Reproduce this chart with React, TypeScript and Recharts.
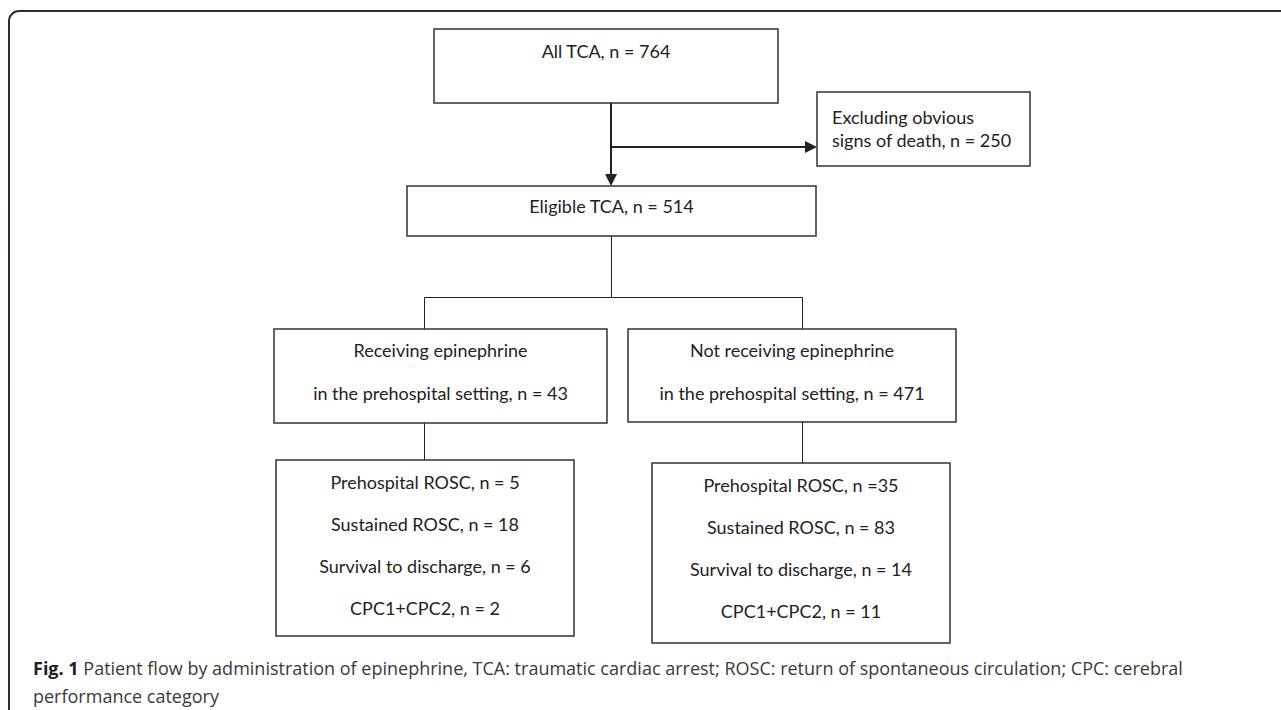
import React from "react";
import { ComposedChart, XAxis, YAxis, ReferenceArea, ReferenceLine, Scatter } from "recharts";

// Patient flow counts
const allTca = 764;
const excludedDeath = 250;
const eligibleTca = 514;
const groupNames = ["Receiving epinephrine", "Not receiving epinephrine"];
const groupCounts = [43, 471];
const outcomeNames = ["Prehospital ROSC", "Sustained ROSC", "Survival to discharge", "CPC1+CPC2"];
const epiOutcomes = [5, 18, 6, 2];
const noEpiOutcomes = [35, 83, 14, 11];
const noEpiEq = ["n =", "n = ", "n = ", "n = "];

const W = 1281;
const H = 710;
const INK = "#222";
const FONT = "Lato, 'Open Sans', sans-serif";

// layout in chart units (1 unit = 1px)
const boxes = {
  all: { x1: 434, x2: 778, y1: 29, y2: 103 },
  excl: { x1: 817, x2: 1030, y1: 92, y2: 166 },
  elig: { x1: 407, x2: 816, y1: 186, y2: 236 },
  recv: { x1: 274, x2: 607, y1: 329, y2: 423 },
  noRecv: { x1: 628, x2: 956, y1: 329, y2: 422 },
  outEpi: { x1: 276, x2: 574, y1: 460, y2: 636 },
  outNo: { x1: 652, x2: 950, y1: 463, y2: 643 },
};

const connectors = [
  { pts: [[611, 103], [611, 176]], w: 2 },
  { pts: [[611, 147], [806, 147]], w: 2 },
  { pts: [[611.5, 236], [611.5, 297.5]], w: 1 },
  { pts: [[424.5, 297.5], [802.5, 297.5]], w: 1 },
  { pts: [[424.5, 297.5], [424.5, 329]], w: 1 },
  { pts: [[802.5, 297.5], [802.5, 329]], w: 1 },
  { pts: [[424.5, 423], [424.5, 460]], w: 1 },
  { pts: [[802.5, 422], [802.5, 463]], w: 1 },
];

const arrowTips = [
  { x: 611, y: 186, dir: "down" },
  { x: 817, y: 147, dir: "right" },
];

function BoxText(props: any) {
  const { viewBox, lines, offsets, align } = props;
  if (!viewBox) return null;
  const left = align === "left";
  const x = left ? viewBox.x + 15 : viewBox.x + viewBox.width / 2;
  return (
    <g>
      {lines.map((t: string, i: number) => (
        <text
          key={i}
          x={x}
          y={viewBox.y + offsets[i]}
          textAnchor={left ? "start" : "middle"}
          dominantBaseline="central"
          fontFamily={FONT}
          fontSize={18}
          fill="#222"
        >
          {t}
        </text>
      ))}
    </g>
  );
}

function Arrow(props: any) {
  const { cx, cy, payload } = props;
  const pts =
    payload.dir === "down"
      ? `${cx},${cy} ${cx - 6},${cy - 12} ${cx + 6},${cy - 12}`
      : `${cx},${cy} ${cx - 12},${cy - 6} ${cx - 12},${cy + 6}`;
  return <polygon points={pts} fill={INK} />;
}

function box(key: keyof typeof boxes, label: React.ReactElement) {
  const b = boxes[key];
  return (
    <ReferenceArea
      key={key}
      x1={b.x1}
      x2={b.x2}
      y1={b.y1}
      y2={b.y2}
      fill="#fff"
      fillOpacity={1}
      stroke="#333"
      strokeWidth={1.5}
      ifOverflow="visible"
      label={label}
    />
  );
}

const rowOffsets = [22, 64, 106, 148];

export default function App() {
  return (
    <div style={{ position: "absolute", left: 0, top: 0, width: W, height: H, background: "#fff" }}>
      <ComposedChart width={W} height={H} margin={{ top: 0, right: 0, bottom: 0, left: 0 }}>
        <XAxis type="number" dataKey="x" domain={[0, W]} hide allowDataOverflow />
        <YAxis type="number" dataKey="y" domain={[0, H]} reversed hide allowDataOverflow />

        {/* outer figure frame */}
        <ReferenceArea
          x1={9}
          x2={1300}
          y1={11}
          y2={740}
          fill="none"
          stroke="#2e2e2e"
          strokeWidth={2}
          radius={10}
          ifOverflow="visible"
        />

        {connectors.map((c, i) => (
          <ReferenceLine
            key={i}
            segment={c.pts.map(([x, y]) => ({ x, y }))}
            stroke={INK}
            strokeWidth={c.w}
            ifOverflow="visible"
          />
        ))}

        {box("all", <BoxText lines={[`All TCA, n = ${allTca}`]} offsets={[22]} />)}
        {box(
          "excl",
          <BoxText
            lines={["Excluding obvious", `signs of death, n = ${excludedDeath}`]}
            offsets={[25, 48]}
            align="left"
          />
        )}
        {box("elig", <BoxText lines={[`Eligible TCA, n = ${eligibleTca}`]} offsets={[20]} />)}
        {box(
          "recv",
          <BoxText
            lines={[groupNames[0], `in the prehospital setting, n = ${groupCounts[0]}`]}
            offsets={[21, 64]}
          />
        )}
        {box(
          "noRecv",
          <BoxText
            lines={[groupNames[1], `in the prehospital setting, n = ${groupCounts[1]}`]}
            offsets={[21, 64]}
          />
        )}
        {box(
          "outEpi",
          <BoxText lines={outcomeNames.map((n, i) => `${n}, n = ${epiOutcomes[i]}`)} offsets={rowOffsets} />
        )}
        {box(
          "outNo",
          <BoxText lines={outcomeNames.map((n, i) => `${n}, ${noEpiEq[i]}${noEpiOutcomes[i]}`)} offsets={rowOffsets} />
        )}

        <Scatter data={arrowTips} dataKey="y" shape={<Arrow />} isAnimationActive={false} />
      </ComposedChart>

      <div
        style={{
          position: "absolute",
          left: 33,
          top: 654,
          fontFamily: "'Open Sans', sans-serif",
          fontSize: 18,
          lineHeight: "28px",
          color: "#3a3a3a",
          whiteSpace: "nowrap",
        }}
      >
        <b style={{ color: "#222" }}>Fig. 1</b> Patient flow by administration of epinephrine, TCA: traumatic cardiac
        arrest; ROSC: return of spontaneous circulation; CPC: cerebral
        <br />
        performance category
      </div>
    </div>
  );
}
